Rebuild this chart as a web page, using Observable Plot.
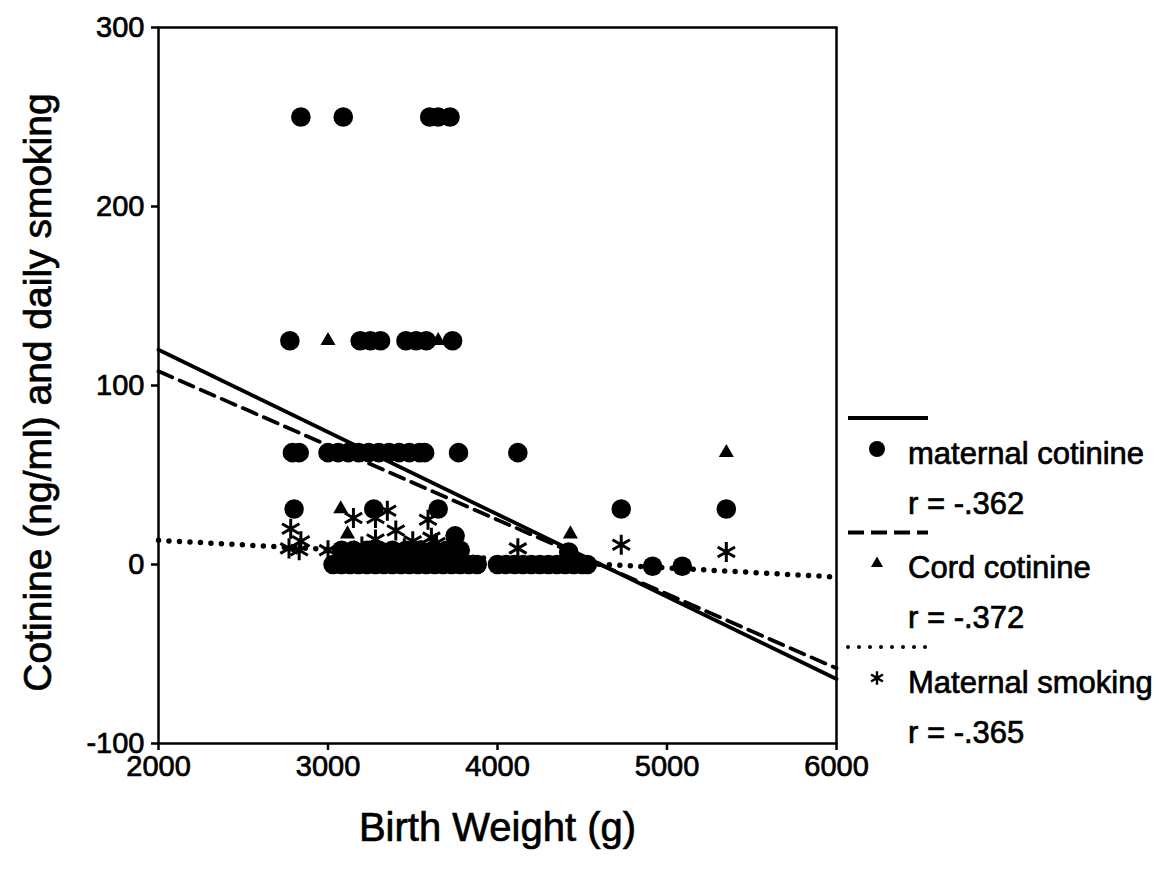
<!DOCTYPE html>
<html><head><meta charset="utf-8">
<script src="https://cdn.jsdelivr.net/npm/d3@7"></script>
<script src="https://cdn.jsdelivr.net/npm/@observablehq/plot@0.6"></script>
<style>
body{margin:0;background:#fff;}
#wrap{position:relative;width:1159px;height:878px;}
#legend{position:absolute;left:0;top:0;pointer-events:none;}
#wrap svg text{stroke:#000;stroke-width:0.7px;}
</style></head><body><div id="wrap"></div>
<script>
const xTicks = [2000, 3000, 4000, 5000, 6000];
const yTicks = [-100, 0, 100, 200, 300];
const xTitle = "Birth Weight (g)";
const yTitle = "Cotinine (ng/ml) and daily smoking";
const seriesNames = ["maternal cotinine", "Cord cotinine", "Maternal smoking"];
const rValues = ["r = -.362", "r = -.372", "r = -.365"];

const maternalCotinine = [
  [2840,250],[3090,250],[3600,250],[3650,250],[3720,250],
  [2775,125],[3190,125],[3250,125],[3310,125],[3460,125],[3520,125],[3580,125],[3735,125],
  [2790,62.5],[2830,62.5],[3000,62.5],[3060,62.5],[3120,62.5],[3180,62.5],[3240,62.5],[3300,62.5],
  [3360,62.5],[3420,62.5],[3480,62.5],[3540,62.5],[3570,62.5],[3770,62.5],[4120,62.5],
  [2800,31],[3270,31],[3650,31],[4730,31],[5350,31],
  [3750,16],
  [3080,8],[3150,8],[3230,8],[3300,8],[3380,8],[3460,8],[3540,8],[3620,8],[3700,8],[3780,8],[4420,7],
  [3030,0],[3080,0],[3130,0],[3180,0],[3230,0],[3280,0],[3330,0],[3380,0],[3430,0],[3480,0],
  [3530,0],[3580,0],[3630,0],[3680,0],[3730,0],[3780,0],[3830,0],[3880,0],
  [4000,0],[4050,0],[4100,0],[4150,0],[4200,0],[4250,0],[4300,0],[4350,0],[4400,0],[4450,0],[4500,0],[4530,0],
  [4915,-1],[5090,-1]
];
const cordCotinine = [
  [3000,125],[3650,125],[3075,31],[3115,17],[4430,17],[5350,62.5],[3300,6],[3500,5],[4400,6]
];
const maternalSmoking = [
  [2780,20],[2840,13],[2770,9],[2830,8],[3000,8],[3150,26],[3280,26],[3350,30],[3400,19],
  [3280,14],[3500,13],[3610,15],[3590,25],[3200,10],[3450,9],[3550,8],[3260,8],[3640,12],
  [4120,9],[4730,11],[5350,7]
];
const fitMaternalCotinine = [[2000,120],[6000,-64]];
const fitCordCotinine = [[2000,108],[6000,-58]];
const fitMaternalSmoking = [[2000,13.5],[6000,-7]];

const font = "'Liberation Sans', Arial, Helvetica, sans-serif";
const X = d => d[0], Y = d => d[1];

const plot = Plot.plot({
  width: 1159, height: 878,
  marginLeft: 158, marginRight: 323, marginTop: 27, marginBottom: 135,
  style: {fontFamily: font, background: "white", color: "black", overflow: "visible"},
  x: {domain: [2000, 6000]},
  y: {domain: [-100, 300]},
  marks: [
    Plot.dot(maternalCotinine, {x: X, y: Y, r: 9.8, fill: "black", symbol: "circle"}),
    Plot.dot(cordCotinine, {x: X, y: Y, r: 5.6, fill: "black", symbol: "triangle"}),
    Plot.dot(maternalSmoking, {x: X, y: Y, r: 9.5, stroke: "black", strokeWidth: 3, symbol: "asterisk"}),
    Plot.line(fitMaternalCotinine, {x: X, y: Y, stroke: "black", strokeWidth: 3.8}),
    Plot.line(fitCordCotinine, {x: X, y: Y, stroke: "black", strokeWidth: 3.8, strokeDasharray: "15 8"}),
    Plot.line(fitMaternalSmoking, {x: X, y: Y, stroke: "black", strokeWidth: 5.5, strokeDasharray: "0 10.5", strokeLinecap: "round"}),
    Plot.frame({stroke: "black", strokeWidth: 2.5}),
    Plot.axisX({ticks: xTicks, tickSize: 7, tickPadding: 5, fontSize: 29, strokeWidth: 2.5, label: null, tickFormat: d => String(d)}),
    Plot.axisY({ticks: yTicks, tickSize: 7, tickPadding: 7, fontSize: 29, strokeWidth: 2.5, label: null, tickFormat: d => String(d)}),
    Plot.text([xTitle], {frameAnchor: "bottom", dy: 97, fontSize: 40, fill: "black"}),
    Plot.text([yTitle], {frameAnchor: "left", textAnchor: "middle", rotate: -90, dx: -120, dy: 7, fontSize: 39, fill: "black"})
  ]
});
document.getElementById("wrap").appendChild(plot);

// Legend (right side)
const lg = d3.select("#wrap").append("svg").attr("id", "legend")
  .attr("width", 1159).attr("height", 878)
  .style("font-family", font);
const dashes = [null, "16 7", "0 11"];
const symbols = [d3.symbolCircle, d3.symbolTriangle, d3.symbolAsterisk];
const symR = [8, 4.5, 6.5];
seriesNames.forEach((name, i) => {
  const ly = 418 + i * 114.5;
  const ln = lg.append("line").attr("x1", 848).attr("x2", 928).attr("y1", ly).attr("y2", ly)
    .attr("stroke", "black").attr("stroke-width", i === 2 ? 4 : 3.8);
  if (dashes[i]) ln.attr("stroke-dasharray", dashes[i]);
  if (i === 2) ln.attr("stroke-linecap", "round");
  const p = d3.symbol(symbols[i], Math.PI * symR[i] * symR[i])();
  const s = lg.append("path").attr("d", p).attr("transform", `translate(877,${ly + 31})`);
  if (i === 2) s.attr("fill", "none").attr("stroke", "black").attr("stroke-width", 2.4);
  else s.attr("fill", "black");
  lg.append("text").attr("x", 908).attr("y", ly + 35).attr("dy", "0.35em")
    .attr("font-size", 31).text(name);
  lg.append("text").attr("x", 908).attr("y", ly + 85).attr("dy", "0.35em")
    .attr("font-size", 31).text(rValues[i]);
});
</script></body></html>
